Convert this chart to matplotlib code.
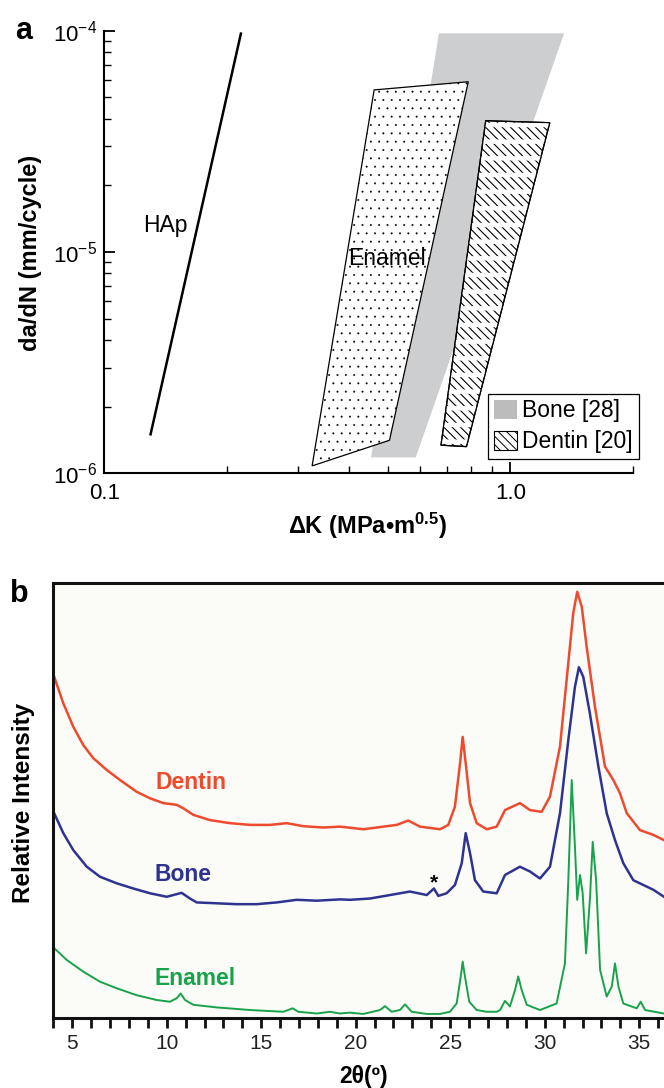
import matplotlib
matplotlib.use('Agg')
import matplotlib.pyplot as plt
from matplotlib.patches import Polygon, Patch
from matplotlib.ticker import FixedLocator, FixedFormatter, LogLocator, NullFormatter, MultipleLocator
import numpy as np

plt.rcParams['font.family'] = ['Liberation Sans', 'DejaVu Sans']
plt.rcParams['mathtext.fontset'] = 'custom'
plt.rcParams['mathtext.rm'] = 'Liberation Sans'
plt.rcParams['mathtext.bf'] = 'Liberation Sans:bold'
plt.rcParams['mathtext.it'] = 'Liberation Sans:italic'
plt.rcParams['hatch.linewidth'] = 0.7

# ---------------- Panel a data ----------------
hap_dk = [0.130, 0.217]
hap_rate = [1.5e-6, 9.7e-5]
enamel_dk = [0.325, 0.462, 0.788, 0.504]
enamel_rate = [1.08e-6, 5.40e-5, 5.88e-5, 1.41e-6]
bone_dk = [0.454, 0.667, 1.357, 0.585]
bone_rate = [1.18e-6, 9.73e-5, 9.73e-5, 1.18e-6]
dentin_dk = [0.675, 0.870, 1.251, 0.780]
dentin_rate = [1.34e-6, 3.92e-5, 3.84e-5, 1.32e-6]
x_ticks_a = [0.1, 1.0]
x_ticklabels_a = ['0.1', '1.0']
y_ticks_a = [1e-6, 1e-5, 1e-4]
y_ticklabels_a = [r'$\mathregular{10^{-6}}$', r'$\mathregular{10^{-5}}$', r'$\mathregular{10^{-4}}$']
legend_labels = ['Bone [28]', 'Dentin [20]']

# ---------------- Panel b data ----------------
dentin_2theta = [4.0, 4.53, 5.06, 5.59, 6.12, 6.83, 7.53, 8.41, 9.12, 9.82,
                 10.53, 10.88, 11.41, 12.29, 13.35, 14.41, 15.47, 16.35, 17.23, 18.29,
                 19.17, 20.40, 22.17, 22.78, 23.40, 24.46, 24.90, 25.25, 25.52, 25.66,
                 25.84, 26.05, 26.40, 26.93, 27.46, 27.90, 28.69, 29.22, 29.84, 30.28,
                 30.81, 31.16, 31.51, 31.72, 31.96, 32.22, 32.66, 33.19, 33.63, 33.98,
                 34.34, 35.04, 35.75, 36.31]
dentin_int = [79.0, 72.3, 66.9, 62.7, 59.7, 57.0, 54.7, 52.0, 50.5, 49.4,
              49.0, 48.2, 46.7, 45.5, 44.8, 44.4, 44.4, 44.8, 44.1, 43.8,
              44.0, 43.4, 44.4, 45.4, 44.0, 43.4, 44.4, 48.6, 58.5, 64.6,
              57.8, 49.4, 44.8, 43.4, 44.0, 47.8, 49.4, 47.8, 47.4, 50.9,
              62.4, 77.7, 93.0, 97.9, 94.5, 85.3, 71.5, 57.8, 54.7, 51.7,
              47.1, 43.2, 42.1, 40.9]

bone_2theta = [4.0, 4.53, 5.06, 5.77, 6.47, 7.35, 8.23, 9.12, 10.0, 10.79,
               11.23, 11.59, 12.65, 13.70, 14.76, 15.82, 16.88, 17.94, 19.17, 19.70,
               20.76, 21.82, 22.87, 23.76, 24.14, 24.37, 24.81, 25.25, 25.61, 25.82,
               26.05, 26.31, 26.75, 27.46, 27.90, 28.69, 29.22, 29.75, 30.28, 30.81,
               31.25, 31.60, 31.81, 32.04, 32.39, 32.84, 33.28, 33.72, 34.16, 34.69,
               35.22, 35.75, 36.31]
bone_int = [47.5, 42.5, 38.6, 34.8, 32.5, 31.0, 29.8, 28.7, 27.9, 28.8,
            27.5, 26.6, 26.4, 26.2, 26.2, 26.6, 27.2, 27.0, 27.3, 27.2,
            27.5, 28.3, 29.1, 28.3, 29.8, 28.1, 28.7, 30.6, 35.6, 42.5,
            37.9, 31.7, 29.1, 28.7, 32.9, 34.8, 33.7, 32.1, 34.8, 47.1,
            63.9, 76.1, 80.6, 78.4, 70.0, 57.8, 47.1, 40.9, 35.6, 31.7,
            30.6, 29.5, 27.9]

enamel_2theta = [4.0, 4.71, 5.59, 6.47, 7.35, 8.41, 9.47, 10.17, 10.53, 10.74,
                 10.97, 11.41, 12.65, 14.41, 16.17, 16.67, 16.96, 17.94, 18.64, 19.17,
                 19.70, 20.40, 21.29, 21.55, 21.90, 22.34, 22.61, 22.96, 23.76, 24.46,
                 24.99, 25.34, 25.56, 25.66, 25.78, 26.01, 26.40, 26.93, 27.46, 27.64,
                 27.90, 28.16, 28.43, 28.60, 28.78, 29.05, 29.75, 30.63, 31.07, 31.25,
                 31.43, 31.60, 31.72, 31.87, 32.01, 32.19, 32.40, 32.54, 32.72, 32.93,
                 33.28, 33.55, 33.72, 33.90, 34.16, 34.87, 35.08, 35.31, 36.31]
enamel_int = [16.3, 13.4, 10.7, 8.4, 6.9, 5.3, 4.2, 3.8, 4.6, 5.7,
              4.2, 3.1, 2.5, 1.9, 1.5, 2.3, 1.5, 1.1, 1.5, 1.1,
              1.3, 1.0, 1.9, 2.8, 1.5, 1.9, 3.2, 1.5, 1.0, 1.0,
              1.5, 3.4, 9.6, 13.0, 9.6, 3.8, 1.9, 1.5, 1.5, 1.9,
              4.0, 2.7, 6.5, 9.6, 6.5, 3.1, 1.9, 3.4, 12.6, 31.7,
              54.7, 39.4, 27.2, 32.9, 28.7, 14.9, 27.9, 40.5, 31.7, 11.1,
              5.0, 7.3, 12.6, 7.3, 3.4, 2.3, 3.8, 1.9, 1.1]
x_ticks_b = [5, 10, 15, 20, 25, 30, 35]

DENTIN_C = '#ee4a2e'
BONE_C = '#2e3390'
ENAMEL_C = '#19a24c'
GRAY = '#cdcecf'


class HatchPolygon(Polygon):
    """Polygon with its own hatch line width (set at creation and at draw time)."""
    def __init__(self, *args, hatch_lw=0.7, **kwargs):
        with plt.rc_context({'hatch.linewidth': hatch_lw}):
            super().__init__(*args, **kwargs)
        self._my_hatch_lw = hatch_lw
        if hasattr(self, 'set_hatch_linewidth'):
            try:
                self.set_hatch_linewidth(hatch_lw)
            except Exception:
                pass

    def draw(self, renderer):
        with plt.rc_context({'hatch.linewidth': self._my_hatch_lw}):
            super().draw(renderer)


W, H = 664, 1088
fig = plt.figure(figsize=(W / 100, H / 100), dpi=100)

# ================= Panel a =================
ax1 = fig.add_axes([104.3 / W, 1 - 473.3 / H, (632.5 - 104.3) / W, (473.3 - 30.7) / H])
ax1.set_xscale('log')
ax1.set_yscale('log')
ax1.set_xlim(0.1, 2.0)
ax1.set_ylim(1e-6, 1e-4)

ax1.add_patch(Polygon(np.column_stack([bone_dk, bone_rate]), closed=True,
                      facecolor=GRAY, edgecolor='none', zorder=1))
ax1.add_patch(HatchPolygon(np.column_stack([enamel_dk, enamel_rate]), closed=True,
                           facecolor='white', edgecolor='black', lw=0.9, hatch='..',
                           hatch_lw=0.2, zorder=2))
ax1.add_patch(HatchPolygon(np.column_stack([dentin_dk, dentin_rate]), closed=True,
                           facecolor='white', edgecolor='black', lw=0.9, hatch='\\\\\\\\',
                           hatch_lw=0.8, zorder=3))
ax1.add_patch(HatchPolygon(np.column_stack([dentin_dk, dentin_rate]), closed=True,
                           facecolor='none', edgecolor='white', lw=0, hatch='-',
                           hatch_lw=3.2, zorder=3.5))
ax1.add_patch(Polygon(np.column_stack([dentin_dk, dentin_rate]), closed=True,
                      fill=False, edgecolor='black', lw=0.9, zorder=4))

ax1.plot(hap_dk, hap_rate, color='black', lw=1.8, zorder=5)
ax1.text(0.1245, 1.32e-5, 'HAp', fontsize=16.5, ha='left', va='center', zorder=6)
ax1.text(0.399, 9.39e-6, 'Enamel', fontsize=16.5, ha='left', va='center', zorder=6)

ax1.xaxis.set_major_locator(FixedLocator(x_ticks_a))
ax1.xaxis.set_major_formatter(FixedFormatter(x_ticklabels_a))
ax1.xaxis.set_minor_locator(LogLocator(base=10, subs=np.arange(2, 10)))
ax1.xaxis.set_minor_formatter(NullFormatter())
ax1.yaxis.set_major_locator(FixedLocator(y_ticks_a))
ax1.yaxis.set_major_formatter(FixedFormatter(y_ticklabels_a))
ax1.yaxis.set_minor_locator(LogLocator(base=10, subs=np.arange(2, 10)))
ax1.yaxis.set_minor_formatter(NullFormatter())
ax1.tick_params(which='major', direction='in', length=8, width=1.3, labelsize=16, pad=5)
ax1.tick_params(axis='x', which='major', pad=7)
ax1.tick_params(which='minor', direction='in', length=5, width=1.0)
for s in ['top', 'right']:
    ax1.spines[s].set_visible(False)
for s in ['left', 'bottom']:
    ax1.spines[s].set_linewidth(1.5)

legend_bone = Patch(facecolor='#bcbcbc', edgecolor='none', label=legend_labels[0])
with plt.rc_context({'hatch.linewidth': 0.6}):
    legend_dentin = Patch(facecolor='white', edgecolor='black', lw=0.8, hatch='\\\\\\\\',
                          label=legend_labels[1])
leg = ax1.legend(handles=[legend_bone, legend_dentin], loc='lower right',
                 bbox_to_anchor=(1.012, 0.032),
                 fontsize=16.5, frameon=True, fancybox=False, edgecolor='black', framealpha=1,
                 borderpad=0.25, handlelength=1.0, handleheight=0.85, handletextpad=0.25,
                 labelspacing=0.35, borderaxespad=0)
leg.get_frame().set_linewidth(0.9)
leg.set_zorder(10)

fig.text(30.8 / W, 1 - 252.5 / H, 'da/dN (mm/cycle)', rotation=90, fontsize=17,
         fontweight='bold', ha='center', va='center')
fig.text(367 / W, 1 - 526 / H, r'ΔK (MPa•m$^{\mathbf{0.5}}$)', fontsize=17,
         fontweight='bold', ha='center', va='center')
fig.text(15 / W, 1 - 39 / H, 'a', fontsize=22, fontweight='bold', ha='left', va='baseline')

# ================= Panel b =================
ax2 = fig.add_axes([53.3 / W, 1 - 1018.3 / H, 34 * 18.9 / W, (1018.3 - 582.7) / H])
ax2.set_facecolor('#fbfbf7')
ax2.set_xlim(4, 38)
ax2.set_ylim(0, 100)
ax2.plot(dentin_2theta, dentin_int, color=DENTIN_C, lw=1.8)
ax2.plot(bone_2theta, bone_int, color=BONE_C, lw=1.8)
ax2.plot(enamel_2theta, enamel_int, color=ENAMEL_C, lw=1.4)

ax2.text(9.43, 54.2, 'Dentin', color=DENTIN_C, fontsize=16.5, fontweight='bold', ha='left', va='center')
ax2.text(9.33, 32.9, 'Bone', color=BONE_C, fontsize=16.5, fontweight='bold', ha='left', va='center')
ax2.text(9.33, 9.25, 'Enamel', color=ENAMEL_C, fontsize=16.5, fontweight='bold', ha='left', va='center')
ax2.text(24.16, 31.0, '*', color='black', fontsize=15, fontweight='bold', ha='center', va='center')

ax2.xaxis.set_major_locator(FixedLocator(x_ticks_b))
ax2.xaxis.set_minor_locator(MultipleLocator(1))
ax2.set_yticks([])
ax2.tick_params(axis='x', which='both', direction='out', length=7, width=2.0, colors='#111111',
                labelsize=15, pad=4)
ax2.tick_params(axis='x', which='major', labelcolor='#222222')
for s in ax2.spines.values():
    s.set_linewidth(2.2)
    s.set_color('#111111')

fig.text(24 / W, 1 - 802.5 / H, 'Relative Intensity', rotation=90, fontsize=17.5,
         fontweight='bold', ha='center', va='center')
fig.text(363.7 / W, 1 - 1077 / H, '2θ(º)', fontsize=16.5, fontweight='bold', ha='center', va='center')
fig.text(10 / W, 1 - 602 / H, 'b', fontsize=22, fontweight='bold', ha='left', va='baseline')

fig.savefig('out.png', dpi=100)
